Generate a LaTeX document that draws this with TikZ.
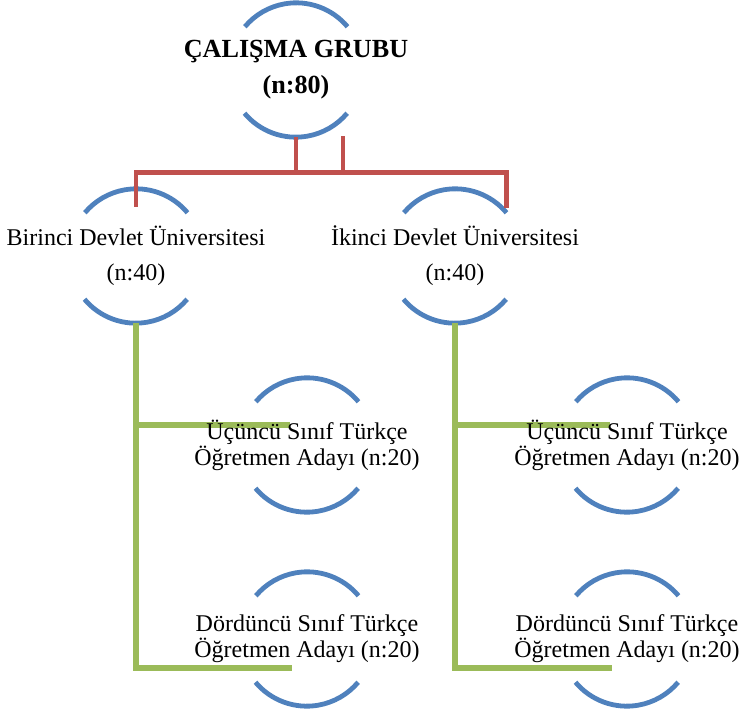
\documentclass[tikz,border=0pt]{standalone}
\usepackage{fontspec}
\setmainfont{Liberation Serif}
\usetikzlibrary{calc,backgrounds}
\definecolor{ringblue}{HTML}{4F81BD}
\definecolor{linkred}{HTML}{C0504D}
\definecolor{linkgreen}{HTML}{9BBB59}
\begin{document}
\begin{tikzpicture}[x=0.75pt, y=0.75pt,
  ring/.style={circle, minimum size=100.5pt, inner sep=0pt},
  arcline/.style={ringblue, line width=3.6pt},
  redline/.style={linkred, line width=3.4pt},
  greenline/.style={linkgreen, line width=3.8pt},
  toptext/.style={align=center, font=\fontsize{19.6}{27}\selectfont\bfseries},
  midtext/.style={align=center, font=\fontsize{18}{26.25}\selectfont},
  lowtext/.style={align=center, font=\fontsize{18}{19.5}\selectfont}]
\useasboundingbox (0,0) rectangle (739,-713);
\node[ring, label={[toptext, name=grubu-text]center:{ÇALIŞMA GRUBU\\(n:80)}}] (grubu) at (296,-70) {};
\node[ring, label={[midtext, name=uni1-text]center:{Birinci Devlet Üniversitesi\\(n:40)}}] (uni1) at (136,-256) {};
\node[ring, label={[midtext, name=uni2-text]center:{İkinci Devlet Üniversitesi\\(n:40)}}] (uni2) at (455,-256) {};
\node[ring, label={[lowtext, name=sinif3a-text]center:{Üçüncü Sınıf Türkçe\\Öğretmen Adayı (n:20)}}] (sinif3a) at (307,-445) {};
\node[ring, label={[lowtext, name=sinif4a-text]center:{Dördüncü Sınıf Türkçe\\Öğretmen Adayı (n:20)}}] (sinif4a) at (307,-639) {};
\node[ring, label={[lowtext, name=sinif3b-text]center:{Üçüncü Sınıf Türkçe\\Öğretmen Adayı (n:20)}}] (sinif3b) at (627,-445) {};
\node[ring, label={[lowtext, name=sinif4b-text]center:{Dördüncü Sınıf Türkçe\\Öğretmen Adayı (n:20)}}] (sinif4b) at (627,-639) {};
\begin{scope}[on background layer]
\foreach \n in {grubu,uni1,uni2,sinif3a,sinif4a,sinif3b,sinif4b} {
  \draw[arcline] (\n.40) arc[start angle=40, end angle=140, radius=67];
  \draw[arcline] (\n.220) arc[start angle=220, end angle=320, radius=67];
}
\draw[redline] (grubu.south) -- ++(0,-35) -| ($(uni1.north)+(0,-18)$);
\draw[redline] (grubu.south) ++(0,-35) -| ($(uni2.40)+(0,5)$);
\draw[redline] ($(grubu.south)+(47,1)$) -- ++(0,-36);
\draw[greenline] (uni1.south) |- ($(sinif4a)+(-15,-29)$);
\draw[greenline] (uni1.south |- 0,-425) -- ($(sinif3a)+(-17,20)$);
\draw[greenline] (uni2.south) |- ($(sinif4b)+(-15,-29)$);
\draw[greenline] (uni2.south |- 0,-425) -- ($(sinif3b)+(-17,20)$);
\end{scope}
\end{tikzpicture}
\end{document}
